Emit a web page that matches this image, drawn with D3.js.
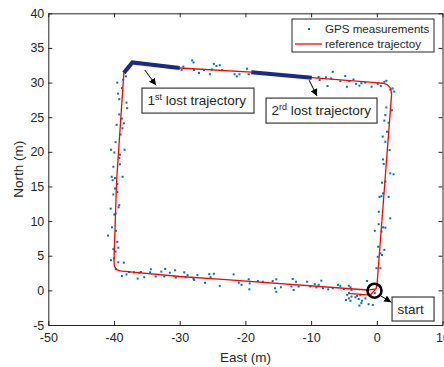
<!DOCTYPE html>
<html>
<head>
<meta charset="utf-8">
<script src="https://cdn.jsdelivr.net/npm/d3@7"></script>
<style>
  body { margin: 0; background: #fff; }
  svg { display: block; }
  text { font-family: "Liberation Sans", Arial, Helvetica, sans-serif; fill: #262626; }
</style>
</head>
<body>
<svg id="chart" width="444" height="367"></svg>
<script>
// Axis ticks
const xTicks = [-50, -40, -30, -20, -10, 0, 10];
const yTicks = [-5, 0, 5, 10, 15, 20, 25, 30, 35, 40];

// Reference trajectory (m)
const refEast  = [-4.3, -1.0, -0.1, 0.05, 2.25, 2.1, 1.6, 1.0, -0.2, -9.9, -19.1, -30.0, -37.2, -38.5,
                  -39.6, -40.0, -39.95, -39.6, -39.0, -38.8, -30.0, -23.5, -1.4, -0.15];
const refNorth = [-0.42, -0.7, 0.25, 1.0, 28.3, 29.2, 29.7, 29.9, 30.0, 30.7, 31.5, 32.1, 32.9, 31.4,
                  15.9, 4.4, 3.5, 3.0, 2.8, 2.78, 2.0, 1.6, 0.05, 0.2];

// Segments where the trajectory was lost
const lost1East  = [-38.5, -37.2, -30.0];
const lost1North = [31.4, 32.9, 32.1];
const lost2East  = [-19.1, -9.9];
const lost2North = [31.5, 30.7];

// GPS measurements (m)
const gpsEast = [
  -29.7, -29.45, -28.1, -27.9, -27.8, -27.06, -26.3, -25.4, -25.1, -24.8, -24.4, -23.9, -23.55, -21.65,
  -21.3, -20.9, -19.75, -19.5, -8.85, -8.7, -7.75, -7.5, -6.95, -6.7, -5.55, -4.8, -4.55, -4.2, -3.55,
  -3.15, -2.65, -2.35, -1.75, -0.8, 0.15, 0.6, 1.15, 1.45, 2.05, 2.4, 2.65,
  1.45, 2.3, 1.3, 1.15, 1.8, 0.9, 1.55, 1.3, 1.95, 0.95, 1.05, 2.05, 2.55, 1.3, 0.8, 0.4, 0.95, 0.7,
  1.8, 0.3, 2.05, 0.3, 0.95, 1.3, 0.7, -0.3, 0.2, 1.15, 0.55, 0.8, 0.14, -0.05, 0.55,
  -38.2, -38.6, -39.5, -38.8, -39.4, -39.2, -38.1, -38.0, -39.2, -38.8, -38.5, -39.6, -38.7, -39.0,
  -39.75, -40.45, -39.95, -38.4, -39.1, -39.2, -39.1, -40.1, -38.7, -40.35, -39.85, -40.2, -39.5,
  -39.85, -39.5, -40.1, -39.2, -39.3, -40.5, -39.75, -39.95, -40.3, -39.7, -40.9, -39.5, -39.35,
  -40.1, -39.75, -40.0, -40.45, -39.35, -38.5, -39.75,
  -38.8, -38.1, -37.7, -36.95, -36.4, -36.15, -35.9, -35.4, -34.5, -34.4, -33.65, -32.8, -32.2,
  -32.35, -31.5, -30.7, -30.6, -29.3, -29.1, -28.8, -27.9, -27.8, -27.3, -26.15, -25.5, -25.3, -24.8,
  -23.9, -21.8, -21.0, -20.6, -19.5, -19.35, -19.4, -18.1, -17.35, -15.85, -15.3, -15.5, -15.3,
  -14.6, -13.0, -12.8, -12.65, -12.3, -11.9, -10.6, -10.1, -9.45, -9.2, -8.85, -8.45, -8.2, -7.4,
  -6.7, -5.9, -5.55, -5.0, -4.25, -4.0, -3.85, -4.25, -4.5, -4.7, -4.25, -3.85, -4.0, -3.25, -3.0,
  -2.75, -2.5, -2.35, -2.25, -2.65, -1.75, -1.5, -1.25, -1.0, -0.6, -0.3
];
const gpsNorth = [
  31.8, 32.3, 33.2, 32.9, 31.8, 31.4, 31.8, 31.2, 31.9, 32.7, 32.4, 32.5, 31.8, 31.2,
  30.9, 31.2, 32.0, 31.2, 30.8, 30.35, 30.75, 29.5, 30.6, 31.55, 30.2, 30.95, 29.4, 30.2, 30.45,
  29.8, 29.55, 29.9, 30.0, 29.4, 29.8, 29.5, 30.1, 30.25, 29.0, 29.15, 28.7,
  26.4, 26.0, 25.3, 24.5, 24.2, 22.2, 22.9, 21.45, 20.25, 18.9, 18.25, 16.9, 16.75, 15.7, 15.55, 13.5, 14.0, 13.6,
  13.5, 11.35, 10.4, 9.55, 9.1, 9.05, 8.5, 8.6, 6.3, 5.85, 5.35, 5.1, 4.85, 3.2, 3.2,
  30.9, 30.4, 30.0, 29.2, 28.4, 27.6, 27.1, 26.3, 25.4, 24.8, 24.1, 23.9, 23.4, 22.5,
  21.4, 20.3, 19.9, 20.3, 19.6, 19.1, 18.2, 17.85, 16.4, 16.4, 16.2, 15.9, 15.35,
  14.7, 14.2, 13.85, 12.3, 12.0, 11.8, 11.1, 10.95, 9.1, 8.6, 7.9, 7.0, 6.15,
  5.95, 5.6, 4.6, 4.35, 4.05, 4.0, 3.05,
  2.1, 2.3, 2.65, 2.6, 1.7, 2.55, 2.65, 1.9, 2.6, 3.05, 2.0, 2.7, 3.1,
  2.0, 2.55, 2.9, 1.85, 2.6, 1.9, 2.2, 1.65, 1.5, 2.2, 1.1, 2.35, 1.9, 2.4,
  0.65, 2.3, 1.1, 0.8, 1.6, 1.0, 0.15, 1.35, 1.25, 1.35, 1.6, 0.3, -0.2,
  0.45, 0.55, 1.65, 0.05, 1.25, 0.55, 1.25, 0.55, 0.9, 0.45, 0.8, 1.4, 0.3, 0.15,
  0.3, 0.8, 0.65, 0.2, 0.65, 0.45, 0.05, -0.4, -0.65, -1.4, -1.15, -0.9, -1.5, -1.0, -0.8,
  -1.25, -0.65, -1.85, -1.5, -2.2, -1.15, 1.35, -2.0, -0.65, -2.1, -0.4
];

// Start location
const startEast = -0.35, startNorth = -0.05;

const W = 444, H = 367;
const margin = { left: 48.3, right: 1.5, top: 13.3, bottom: 42 };
const svg = d3.select("#chart");

const x = d3.scaleLinear().domain([-50, 10]).range([margin.left, W - margin.right]);
const y = d3.scaleLinear().domain([-5, 40]).range([H - margin.bottom, margin.top]);

const axisColor = "#262626";
const tickFont = "12.5px";
const plainNumber = d => String(d);

// Clip region for data
svg.append("defs").append("clipPath").attr("id", "plotClip")
  .append("rect")
  .attr("x", x(-50)).attr("y", y(40))
  .attr("width", x(10) - x(-50)).attr("height", y(-5) - y(40));

const plot = svg.append("g").attr("clip-path", "url(#plotClip)");

// GPS points
plot.append("g").selectAll("rect")
  .data(gpsEast.map((e, i) => [e, gpsNorth[i]]))
  .join("rect")
  .attr("x", d => x(d[0]) - 1)
  .attr("y", d => y(d[1]) - 1)
  .attr("width", 2).attr("height", 2)
  .attr("fill", "#0072BD");

// Reference trajectory
const line = d3.line().x(d => x(d[0])).y(d => y(d[1]));
plot.append("path")
  .datum(refEast.map((e, i) => [e, refNorth[i]]))
  .attr("d", line)
  .attr("fill", "none").attr("stroke", "#ff0000").attr("stroke-width", 1.3)
  .attr("stroke-linejoin", "round");

// Lost segments
[[lost1East, lost1North], [lost2East, lost2North]].forEach(([es, ns]) => {
  plot.append("path")
    .datum(es.map((e, i) => [e, ns[i]]))
    .attr("d", line)
    .attr("fill", "none").attr("stroke", "#1a2a86").attr("stroke-width", 4)
    .attr("stroke-linejoin", "miter");
});

// Start marker
plot.append("circle")
  .attr("cx", x(startEast)).attr("cy", y(startNorth)).attr("r", 7)
  .attr("fill", "none").attr("stroke", "#000").attr("stroke-width", 2.6);

// Axes (ticks pointing inward, full box)
function styleAxis(g) {
  g.attr("font-family", null);
  g.selectAll("path.domain").attr("stroke", axisColor).attr("stroke-width", 1);
  g.selectAll(".tick line").attr("stroke", axisColor);
  g.selectAll(".tick text").style("font-size", tickFont).attr("fill", axisColor);
}
svg.append("g").attr("transform", `translate(0,${y(-5)})`)
  .call(d3.axisBottom(x).tickValues(xTicks).tickFormat(plainNumber)
    .tickSizeInner(-4).tickSizeOuter(0).tickPadding(8))
  .call(styleAxis);
svg.append("g").attr("transform", `translate(0,${y(40)})`)
  .call(d3.axisTop(x).tickValues(xTicks).tickSizeInner(-4).tickSizeOuter(0).tickFormat(""))
  .call(styleAxis);
svg.append("g").attr("transform", `translate(${x(-50)},0)`)
  .call(d3.axisLeft(y).tickValues(yTicks).tickFormat(plainNumber)
    .tickSizeInner(-4).tickSizeOuter(0).tickPadding(4))
  .call(styleAxis);
svg.append("g").attr("transform", `translate(${x(10)},0)`)
  .call(d3.axisRight(y).tickValues(yTicks).tickSizeInner(-4).tickSizeOuter(0).tickFormat(""))
  .call(styleAxis);

// Axis labels
svg.append("text")
  .attr("x", (x(-50) + x(10)) / 2).attr("y", 362)
  .attr("text-anchor", "middle").style("font-size", "13.5px")
  .text("East (m)");
svg.append("text")
  .attr("transform", `translate(23,${(y(-5) + y(40)) / 2}) rotate(-90)`)
  .attr("text-anchor", "middle").style("font-size", "13.5px")
  .text("North (m)");

// Annotations: arrow + text box
const defs = svg.select("defs");
defs.append("marker").attr("id", "head")
  .attr("viewBox", "0 0 10 10").attr("refX", 10).attr("refY", 5)
  .attr("markerWidth", 7).attr("markerHeight", 7).attr("markerUnits", "userSpaceOnUse")
  .attr("orient", "auto")
  .append("path").attr("d", "M0,0L10,5L0,10Z").attr("fill", "#000");

const notes = [
  { lead: "1", sup: "st", rest: " lost trajectory", boxE: -35.74, boxN: 29.2, bw: 112, bh: 25,
    tail: [-35.3, 31.8], tip: [-33.6, 29.6] },
  { lead: "2", sup: "rd", rest: " lost trajectory", boxE: -16.86, boxN: 27.76, bw: 111, bh: 25,
    tail: [-10.3, 30.35], tip: [-9.1, 28.05] },
  { lead: "start", sup: "", rest: "", boxE: 2.32, boxN: -0.96, bw: 42, bh: 24,
    tail: [0.6, -0.8], tip: [2.2, -1.7] }
];

notes.forEach(n => {
  svg.append("line")
    .attr("x1", x(n.tail[0])).attr("y1", y(n.tail[1]))
    .attr("x2", x(n.tip[0])).attr("y2", y(n.tip[1]))
    .attr("stroke", "#000").attr("stroke-width", 1)
    .attr("marker-end", "url(#head)");
  const bx = x(n.boxE), by = y(n.boxN);
  svg.append("rect")
    .attr("x", bx).attr("y", by).attr("width", n.bw).attr("height", n.bh)
    .attr("fill", "#fff").attr("stroke", "#3a3a3a").attr("stroke-width", 1.2);
  const t = svg.append("text")
    .attr("x", bx + 5.5).attr("y", by + n.bh / 2 + 4.8)
    .style("font-size", "13.5px").attr("fill", "#000");
  t.append("tspan").text(n.lead);
  if (n.sup) {
    t.append("tspan").attr("dy", -5).style("font-size", "9px").text(n.sup);
    t.append("tspan").attr("dy", 5).text(n.rest);
  }
});

// Legend
const lg = svg.append("g");
lg.append("rect").attr("x", 292).attr("y", 19).attr("width", 142).attr("height", 33)
  .attr("fill", "#fff").attr("stroke", axisColor).attr("stroke-width", 1);
lg.append("rect").attr("x", 308).attr("y", 28).attr("width", 2).attr("height", 2).attr("fill", "#0072BD");
lg.append("line").attr("x1", 295).attr("x2", 322).attr("y1", 44).attr("y2", 44)
  .attr("stroke", "#ff0000").attr("stroke-width", 1.3);
lg.append("text").attr("x", 325).attr("y", 33).style("font-size", "11.6px").attr("fill", "#000").text("GPS measurements");
lg.append("text").attr("x", 325).attr("y", 48).style("font-size", "11.6px").attr("fill", "#000").text("reference trajectoy");
</script>
</body>
</html>
